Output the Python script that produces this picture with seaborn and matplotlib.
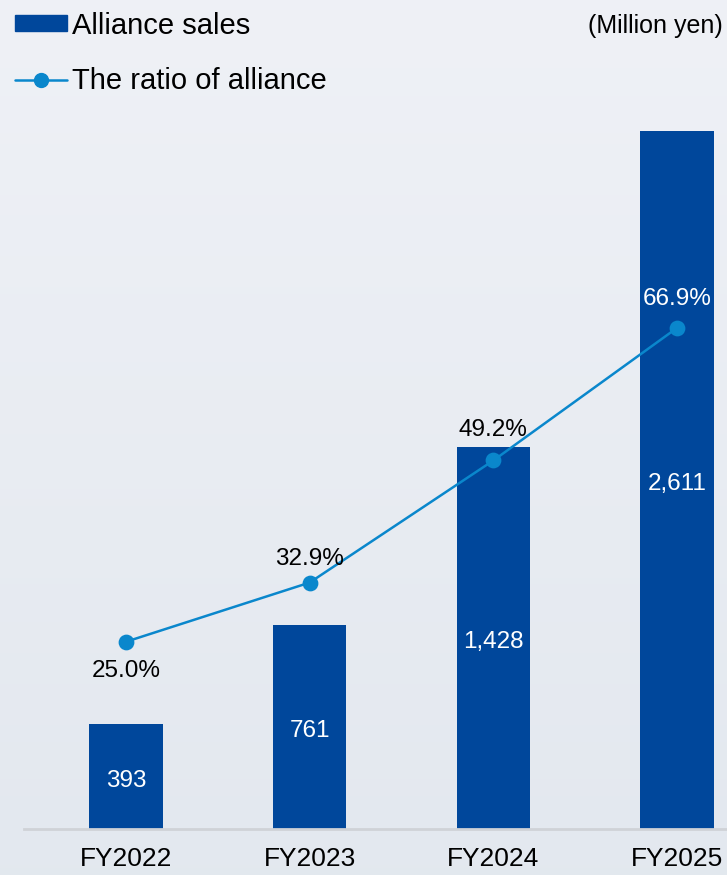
import numpy as np
import pandas as pd
import seaborn as sns
import matplotlib.pyplot as plt
from matplotlib.patches import Patch
from matplotlib.lines import Line2D

years = ["FY2022", "FY2023", "FY2024", "FY2025"]
sales = [393, 761, 1428, 2611]
ratio = [25.0, 32.9, 49.2, 66.9]
sales_labels = ["393", "761", "1,428", "2,611"]
ratio_labels = ["25.0%", "32.9%", "49.2%", "66.9%"]

bar_color = "#00479b"
line_color = "#0a87cc"

sns.set_style("white")
plt.rcParams["font.family"] = ["Liberation Sans", "DejaVu Sans"]
plt.rcParams["text.color"] = "black"
plt.rcParams["xtick.color"] = "black"

fig = plt.figure(figsize=(7.27, 8.75), dpi=100)

# background gradient
bg = fig.add_axes([0, 0, 1, 1], zorder=-10)
grad = np.linspace(0, 1, 256).reshape(-1, 1)
top = np.array([0.937, 0.945, 0.965])
bot = np.array([0.890, 0.910, 0.937])
img = top + (bot - top) * grad[:, :, None]
bg.imshow(img, aspect="auto", extent=[0, 1, 0, 1])
bg.axis("off")

ax = fig.add_axes([24 / 727, 46 / 875, 703 / 727, 749 / 875])
ax.patch.set_alpha(0)
df = pd.DataFrame({"year": years, "sales": sales, "ratio": ratio})
sns.barplot(data=df, x="year", y="sales", color=bar_color, width=0.4,
            saturation=1, linewidth=0, ax=ax)
ax.set_ylim(0, 2800)

ax2 = ax.twinx()
sns.pointplot(data=df, x="year", y="ratio", color=line_color, ax=ax2,
              markers="o", markersize=10, linewidth=1.8)
ax2.set_ylim(0, 100)

for a in (ax, ax2):
    a.set_xlim(-0.555, 3.272)
    for s in a.spines.values():
        s.set_visible(False)
    a.set_yticks([])
    a.set_ylabel("")
    a.set_xlabel("")
ax.spines["bottom"].set_visible(True)
ax.spines["bottom"].set_color("#cfd2d7")
ax.spines["bottom"].set_linewidth(2)
ax.tick_params(axis="x", length=0, pad=13, labelsize=19, labelcolor="black")

for i, (v, t) in enumerate(zip(sales, sales_labels)):
    ax.annotate(t, (i, v / 2), xytext=(0, -3), textcoords="offset points",
                color="white", ha="center", va="center", fontsize=17.5)

offsets = [-29, 24, 30, 29]
colors = ["black", "black", "black", "white"]
for i, (r, t) in enumerate(zip(ratio, ratio_labels)):
    ax2.annotate(t, (i, r), xytext=(0, offsets[i] * 0.72),
                 textcoords="offset points", ha="center", va="center",
                 fontsize=17.5, color=colors[i])

fig.text(723 / 727, 1 - 26 / 875, "(Million yen)", ha="right", va="center",
         fontsize=18)

handles = [Patch(color=bar_color, label="Alliance sales"),
           Line2D([], [], color=line_color, marker="o", markersize=10,
                  linewidth=1.8, label="The ratio of alliance")]
fig.legend(handles=handles, loc="upper left", bbox_to_anchor=(-0.008, 1.01),
           frameon=False, fontsize=21, handlelength=1.78, handleheight=0.48,
           handletextpad=0.2, labelspacing=0.95, borderaxespad=0.3)

fig.savefig("out.png", dpi=100)
